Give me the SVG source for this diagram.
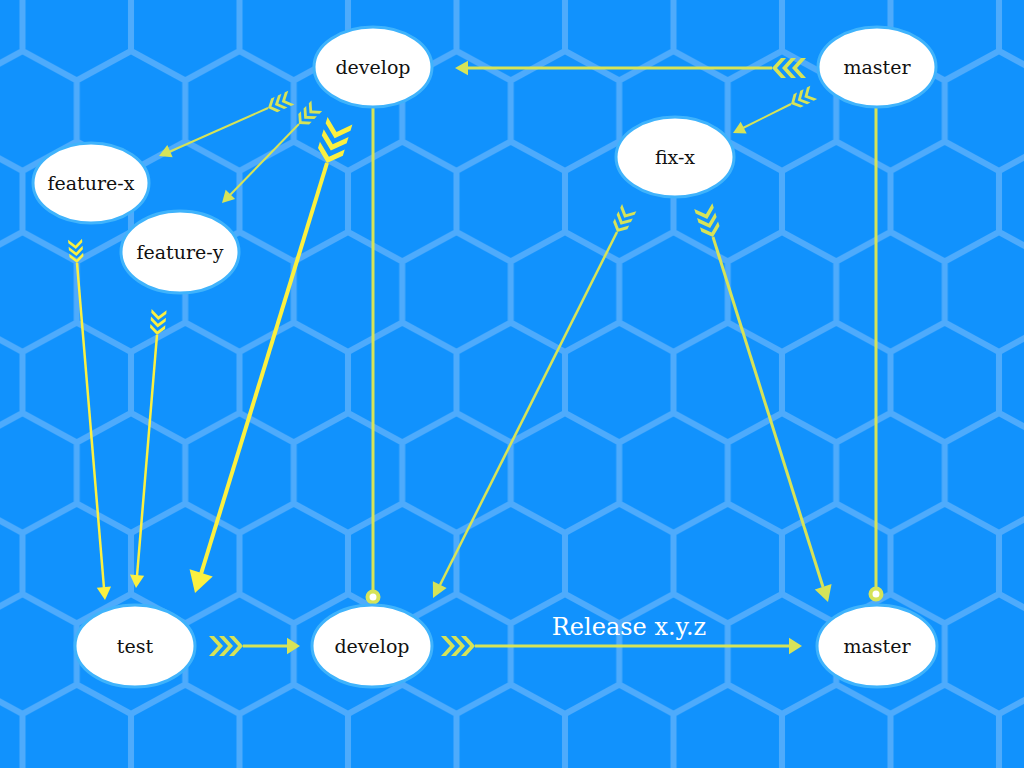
<svg xmlns="http://www.w3.org/2000/svg" xmlns:xlink="http://www.w3.org/1999/xlink" width="1024" height="768" viewBox="0 0 1024 768">
<style>
.hex{fill:none;stroke:#4eabfc;stroke-width:6;stroke-linejoin:round;stroke-linecap:round}
.node{fill:#ffffff;stroke:#3fb3fc;stroke-width:3}
.lbl{font-family:"DejaVu Serif","Liberation Serif",serif;font-size:19px;fill:#111111;text-anchor:middle}
.g{stroke:#d6e358;fill:none}
.gf{fill:#d6e358}
.b{stroke:#fbf040;fill:none}
.bf{fill:#fbf040}
.rel{font-family:"DejaVu Serif","Liberation Serif",serif;font-size:24px;fill:#ffffff;text-anchor:middle}
</style>
<defs>
<path id="hx" d="M0,0V61L54.25,90.5L108.5,61V0M54.25,90.5V151.5L0,181M54.25,151.5L108.5,181"/>
<pattern id="hexp" patternUnits="userSpaceOnUse" x="22.5" y="-10" width="108.5" height="181">
<g class="hex">
<use xlink:href="#hx"/>
<use xlink:href="#hx" y="-181"/>
<use xlink:href="#hx" y="181"/>
</g>
</pattern>
<path id="fl" d="M0,0L-9,-10L-14,-10L-5,0L-14,10L-9,10Z M-10,0L-19,-10L-24,-10L-15,0L-24,10L-19,10Z M-20,0L-29,-10L-34,-10L-25,0L-34,10L-29,10Z"/>
<path id="ah" d="M0,0L-1,-0.55L-1,0.55Z"/>
<circle id="dot" r="5.5" fill="#ffffff" stroke="#d6e358" stroke-width="4"/>
</defs>
<rect width="1024" height="768" fill="#1192fd"/>
<rect width="1024" height="768" fill="url(#hexp)"/>
<g id="connectors">
<!-- master -> develop (top) -->
<line class="g" x1="772" y1="68" x2="465" y2="68" stroke-width="3"/>
<use xlink:href="#fl" class="gf" transform="translate(772,68) rotate(180)"/>
<use xlink:href="#ah" class="gf" transform="translate(455,68) rotate(180) scale(13,13)"/>
<!-- master -> fix-x -->
<line class="g" x1="791" y1="104" x2="743" y2="128" stroke-width="2"/>
<use xlink:href="#fl" class="gf" transform="translate(791,104) rotate(153) scale(0.75)"/>
<use xlink:href="#ah" class="gf" transform="translate(733,133) rotate(153) scale(12,12)"/>
<!-- develop -> feature-x -->
<line class="g" x1="268" y1="108" x2="169" y2="152" stroke-width="2"/>
<use xlink:href="#fl" class="gf" transform="translate(268,108) rotate(156.2) scale(0.75)"/>
<use xlink:href="#ah" class="gf" transform="translate(159,156) rotate(156.2) scale(12,12)"/>
<!-- develop -> feature-y -->
<line class="g" x1="299" y1="124" x2="230" y2="195" stroke-width="2"/>
<use xlink:href="#fl" class="gf" transform="translate(299,124) rotate(134.3) scale(0.75)"/>
<use xlink:href="#ah" class="gf" transform="translate(222,203) rotate(134.3) scale(12,12)"/>
<!-- develop -> test (big) -->
<line class="b" x1="327" y1="163" x2="201" y2="574" stroke-width="4"/>
<use xlink:href="#fl" class="bf" transform="translate(327,163) rotate(107.06) scale(1.3)"/>
<use xlink:href="#ah" class="bf" transform="translate(195,593) rotate(107.06) scale(21,22)"/>
<!-- feature-x -> test -->
<line class="b" x1="77" y1="263" x2="104" y2="588" stroke-width="2.5"/>
<use xlink:href="#fl" class="bf" transform="translate(77,263) rotate(85.25) scale(0.7)"/>
<use xlink:href="#ah" class="bf" transform="translate(105,600) rotate(85.25) scale(13,13)"/>
<!-- feature-y -> test -->
<line class="b" x1="157" y1="335" x2="137" y2="576" stroke-width="2.5"/>
<use xlink:href="#fl" class="bf" transform="translate(157,335) rotate(94.7) scale(0.75)"/>
<use xlink:href="#ah" class="bf" transform="translate(136,588) rotate(94.7) scale(13,13)"/>
<!-- develop top -> develop bottom -->
<line class="g" x1="373" y1="108" x2="373" y2="591" stroke-width="3"/>
<use xlink:href="#dot" x="373" y="597"/>
<!-- master top -> master bottom -->
<line class="g" x1="876" y1="108" x2="876" y2="588" stroke-width="3"/>
<use xlink:href="#dot" x="876" y="594"/>
<!-- fix-x -> develop bottom -->
<line class="g" x1="617" y1="232" x2="440" y2="585" stroke-width="2.5"/>
<use xlink:href="#fl" class="gf" transform="translate(617,232) rotate(116.7) scale(0.8)"/>
<use xlink:href="#ah" class="gf" transform="translate(433,598) rotate(116.7) scale(15,14)"/>
<!-- fix-x -> master bottom -->
<line class="g" x1="713" y1="237" x2="823" y2="587" stroke-width="3"/>
<use xlink:href="#fl" class="gf" transform="translate(713,237) rotate(72.5) scale(0.95)"/>
<use xlink:href="#ah" class="gf" transform="translate(828,602) rotate(72.5) scale(16,16)"/>
<!-- test -> develop bottom -->
<line class="g" x1="243" y1="646" x2="288" y2="646" stroke-width="3"/>
<use xlink:href="#fl" class="gf" transform="translate(243,646)"/>
<use xlink:href="#ah" class="gf" transform="translate(300,646) scale(13,15)"/>
<!-- develop bottom -> master bottom -->
<line class="g" x1="475" y1="646" x2="790" y2="646" stroke-width="3"/>
<use xlink:href="#fl" class="gf" transform="translate(475,646)"/>
<use xlink:href="#ah" class="gf" transform="translate(802,646) scale(13,15)"/>
<text class="rel" x="629" y="635">Release x.y.z</text>
</g>
<g id="develop-top"><ellipse class="node" cx="373" cy="67" rx="59" ry="40"/><text class="lbl" x="373" y="74">develop</text></g>
<g id="master-top"><ellipse class="node" cx="877" cy="67" rx="59" ry="40"/><text class="lbl" x="877" y="74">master</text></g>
<g id="fix-x"><ellipse class="node" cx="675" cy="157" rx="59" ry="40"/><text class="lbl" x="675" y="164">fix-x</text></g>
<g id="feature-x"><ellipse class="node" cx="91" cy="183" rx="58" ry="40"/><text class="lbl" x="91" y="190">feature-x</text></g>
<g id="feature-y"><ellipse class="node" cx="180" cy="252" rx="59" ry="41"/><text class="lbl" x="180" y="259">feature-y</text></g>
<g id="test"><ellipse class="node" cx="135" cy="646" rx="60" ry="41"/><text class="lbl" x="135" y="653">test</text></g>
<g id="develop-bottom"><ellipse class="node" cx="372" cy="646" rx="60" ry="41"/><text class="lbl" x="372" y="653">develop</text></g>
<g id="master-bottom"><ellipse class="node" cx="877" cy="646" rx="60" ry="41"/><text class="lbl" x="877" y="653">master</text></g>
</svg>
